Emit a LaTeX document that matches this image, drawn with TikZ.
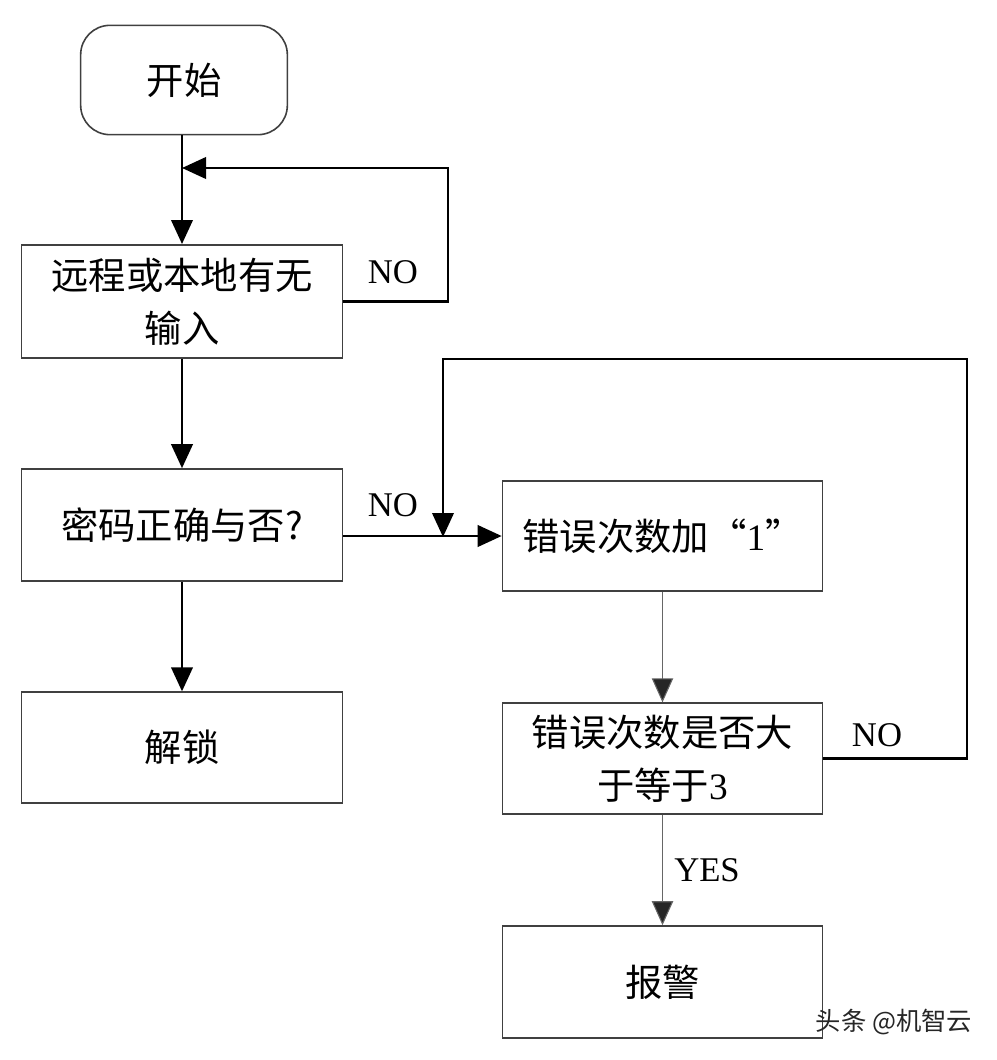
\documentclass[tikz,border=0pt]{standalone}
\usepackage{fontspec}
\setmainfont{Liberation Serif}
\newfontfamily\cjk{Noto Sans CJK SC}
\usetikzlibrary{arrows.meta}

\begin{document}
\begin{tikzpicture}[x=0.75pt,y=-0.75pt,thick]
				\tikzset{box/.style={draw=black!75,line width=1.2pt,minimum width=241pt,inner sep=0pt,align=center,font=\cjk\fontsize{28}{40}\selectfont},
					flow/.style={line width=2.1pt,-{Triangle[width=16pt,length=18pt]}},
					thin flow/.style={draw=black!60,line width=0.8pt,-{Triangle[width=16pt,length=18pt,fill=black!85]}},
					tag/.style={font=\fontsize{26}{30}\selectfont}}
				\useasboundingbox (0,0) rectangle (996,1060);

				\node[box,rounded corners=22pt,minimum width=155pt,minimum height=82pt] (start) at (184,80) {开始};
				\node[box,minimum height=85pt] (input) at (182,301.5) {远程或本地有无\\输入};
				\node[box,minimum height=84pt] (pwd) at (182,525) {密码正确与否?};
				\node[box,minimum height=83pt] (unlock) at (182,747.5) {解锁};
				\node[box,minimum width=240pt,minimum height=82.5pt] (inc) at (662.5,536) {错误次数加“{\rmfamily 1}”};
				\node[box,minimum width=240pt,minimum height=83pt] (cmp) at (662.5,758.5) {错误次数是否大\\于等于{\rmfamily 3}};
				\node[box,minimum width=240pt,minimum height=84pt] (alarm) at (662.5,982) {报警};

				\coordinate (back) at (182,168);
				\coordinate (join) at (443,537);

				\draw[flow] (start.south -| input.north) -- (input.north);
				\draw[flow] (input.east) -| (448,168) -- (back);
				\draw[flow] (input.south) -- (pwd.north);
				\draw[flow] (pwd.east |- inc.west) -- (inc.west);
				\draw[flow] (pwd.south) -- (unlock.north);
				\draw[flow] (cmp.east) -| (967,359) -| (join);
				\draw[thin flow] (inc.south) -- (cmp.north);
				\draw[thin flow] (cmp.south) -- (alarm.north);

				\node[tag] (no1) at (393,272) {NO};
				\node[tag] (no2) at (393,505) {NO};
				\node[tag] (no3) at (877,735) {NO};
				\node[tag] (yes) at (707,870) {YES};

				\node[font=\cjk\fontsize{19}{22}\selectfont,text=black!85] (mark) at (894,1022) {头条 @机智云};
			\end{tikzpicture}
\end{document}
